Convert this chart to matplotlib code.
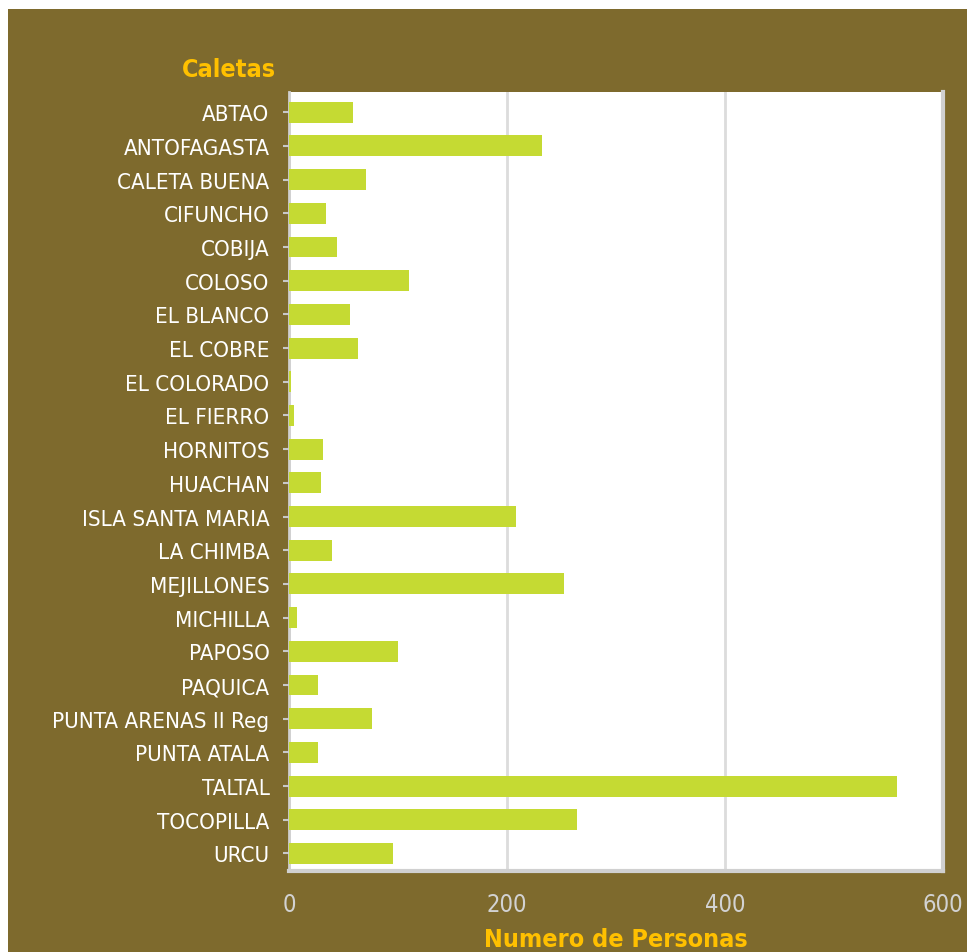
import matplotlib
matplotlib.use("Agg")
from matplotlib import pyplot as plt
from matplotlib.patches import Rectangle
from matplotlib import font_manager

# data
caletas = ['ABTAO', 'ANTOFAGASTA', 'CALETA BUENA', 'CIFUNCHO', 'COBIJA', 'COLOSO',
           'EL BLANCO', 'EL COBRE', 'EL COLORADO', 'EL FIERRO', 'HORNITOS', 'HUACHAN',
           'ISLA SANTA MARIA', 'LA CHIMBA', 'MEJILLONES', 'MICHILLA', 'PAPOSO', 'PAQUICA',
           'PUNTA ARENAS II Reg', 'PUNTA ATALA', 'TALTAL', 'TOCOPILLA', 'URCU']
personas = [59, 232, 71, 34, 44, 110, 56, 63, 2, 5, 31, 29, 208, 39, 252, 7, 100, 27,
            76, 27, 558, 264, 95]
x_ticks = [0, 200, 400, 600]

brown = '#7E6A2D'
gold = '#FFC000'
bar_color = '#C5DA33'

ylab_fp = font_manager.FontProperties(family='DejaVu Sans', stretch='condensed', size=16)
xlab_fp = font_manager.FontProperties(family='DejaVu Sans', stretch='condensed', size=17)
title_fp = font_manager.FontProperties(family='DejaVu Sans', stretch='condensed',
                                       weight='bold', size=18)

fig = plt.figure(figsize=(9.67, 9.53), dpi=100, facecolor='white')
fig.patches.append(Rectangle((8 / 967, 0), 1, 1 - 10 / 953, transform=fig.transFigure,
                             facecolor=brown, edgecolor='none', zorder=-1))

ax = fig.add_axes([289 / 967, 1 - 872 / 953, (943 - 289) / 967, (872 - 93) / 953])
ax.set_facecolor('white')

pos = list(range(len(caletas)))
ax.barh(pos, personas, height=0.62, color=bar_color, zorder=3)
ax.set_ylim(22.52, -0.6)
ax.set_xlim(0, 600)

ax.set_xticks(x_ticks)
ax.set_xticklabels([str(t) for t in x_ticks])
ax.set_yticks(pos)
ax.set_yticklabels(caletas)
ax.xaxis.grid(True, color='#DCDCDC', linewidth=2, zorder=0)
ax.set_axisbelow(True)

for lab in ax.get_yticklabels():
    lab.set_fontproperties(ylab_fp)
    lab.set_color('white')
for lab in ax.get_xticklabels():
    lab.set_fontproperties(xlab_fp)
    lab.set_color('#D2D2D2')

ax.tick_params(axis='y', length=4, width=1.5, color='#C8C8C8', pad=10)
ax.tick_params(axis='x', length=0, pad=15)

for side in ['left', 'right', 'bottom', 'top']:
    ax.spines[side].set_color('#D0D0D0')
ax.spines['left'].set_linewidth(2)
ax.spines['right'].set_linewidth(3)
ax.spines['bottom'].set_linewidth(3)
ax.spines['top'].set_visible(False)

fig.text(276 / 967, 1 - 70 / 953, 'Caletas', color=gold, fontproperties=title_fp,
         ha='right', va='center')
fig.text(616 / 967, 1 - 940 / 953, 'Numero de Personas', color=gold,
         fontproperties=title_fp, ha='center', va='center')

fig.savefig('out.png', dpi=100, facecolor=fig.get_facecolor())
